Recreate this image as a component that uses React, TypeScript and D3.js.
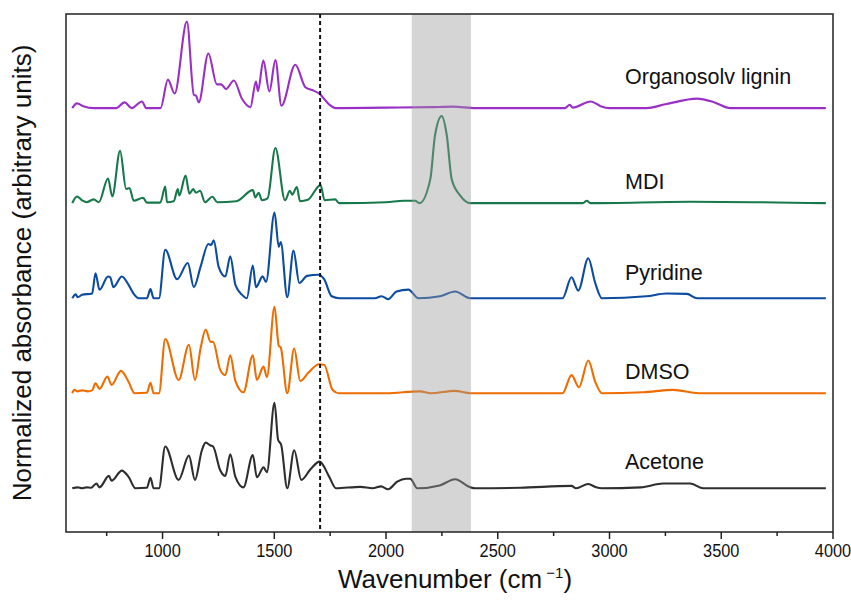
import React from "react";
import * as d3 from "d3";

const WIDTH = 851;
const HEIGHT = 606;
const margin = { top: 14, right: 18, bottom: 74, left: 66 };

// spectra: [wavenumber, normalized absorbance above own baseline]
const acetone: [number, number][] = [
  [596, 0], [620, 0.01], [640, 0], [660, 0.01], [680, 0.005], [704, 0.05], [718, 0.01],
  [760, 0.13], [772, 0.08], [818, 0.186], [848, 0.12], [879, 0], [930, 0.005], [946, 0.11],
  [960, 0], [984, 0], [1012, 0.44], [1072, 0.088], [1118, 0.344], [1145, 0.088], [1176, 0.4],
  [1193, 0.48], [1215, 0.45], [1226, 0.44], [1258, 0.19], [1281, 0.13], [1303, 0.358],
  [1326, 0.12], [1362, 0.01], [1404, 0.35], [1422, 0.116], [1452, 0.22], [1467, 0.17],
  [1501, 0.9], [1517, 0.51], [1531, 0.456], [1558, 0], [1589, 0.4], [1621, 0.088],
  [1662, 0.2], [1703, 0.28], [1746, 0.12], [1776, 0], [1885, 0.015], [1940, 0], [1978, 0.02],
  [2009, -0.01], [2050, 0.07], [2090, 0.1], [2108, 0.1], [2140, 0], [2240, 0.03], [2309, 0.095],
  [2377, 0.01], [2400, 0], [2600, 0.005], [2830, 0.025], [2850, 0], [2905, 0.045], [2940, 0.01],
  [2966, 0], [3140, 0.01], [3240, 0.05], [3360, 0.05], [3420, 0], [3968, 0],
];

const dmso: [number, number][] = [
  [596, 0], [605, 0.035], [620, 0.02], [640, 0.03], [665, 0.02], [685, 0.03], [700, 0.105],
  [718, 0.046], [753, 0.175], [772, 0.088], [814, 0.235], [848, 0.12], [875, 0], [930, 0.005],
  [946, 0.11], [960, 0], [984, 0], [1012, 0.57], [1072, 0.14], [1118, 0.51], [1145, 0.14],
  [1170, 0.47], [1193, 0.67], [1215, 0.54], [1226, 0.54], [1258, 0.246], [1281, 0.19],
  [1303, 0.4], [1326, 0.13], [1362, 0.01], [1404, 0.4], [1422, 0.14], [1452, 0.28],
  [1467, 0.17], [1501, 0.91], [1520, 0.5], [1529, 0.48], [1558, 0], [1589, 0.47], [1616, 0.13],
  [1654, 0.22], [1700, 0.305], [1723, 0.3], [1761, 0.035], [1790, 0], [2000, 0], [2152, 0.02],
  [2200, 0], [2308, 0.025], [2377, 0], [2790, 0], [2830, 0.19], [2863, 0.063], [2905, 0.344],
  [2936, 0.12], [2966, 0], [3150, 0.01], [3285, 0.035], [3400, 0], [3968, 0],
];

const pyridine: [number, number][] = [
  [596, 0], [612, 0.04], [620, 0.01], [640, 0.035], [685, 0.05], [700, 0.263], [718, 0.088],
  [756, 0.228], [766, 0.22], [780, 0.116], [818, 0.228], [848, 0.14], [871, 0.046], [894, 0],
  [930, 0], [946, 0.095], [960, 0], [984, 0], [1012, 0.51], [1065, 0.2], [1113, 0.37],
  [1140, 0.116], [1170, 0.33], [1205, 0.57], [1218, 0.56], [1229, 0.61], [1251, 0.33],
  [1281, 0.228], [1303, 0.44], [1326, 0.14], [1356, 0.035], [1377, 0], [1404, 0.344],
  [1418, 0.116], [1448, 0.23], [1463, 0.17], [1501, 0.9], [1520, 0.54], [1529, 0.59],
  [1558, 0.01], [1586, 0.5], [1612, 0.16], [1647, 0.235], [1697, 0.246], [1723, 0.2],
  [1757, 0.02], [1790, 0], [1950, 0], [1980, 0.02], [2009, -0.01], [2047, 0.07], [2100, 0.09],
  [2145, 0], [2241, 0.02], [2309, 0.07], [2377, 0], [2790, 0], [2830, 0.22], [2860, 0.08],
  [2905, 0.42], [2936, 0.16], [2966, 0], [3165, 0.02], [3255, 0.05], [3346, 0.045],
  [3392, 0], [3968, 0],
];

const mdi: [number, number][] = [
  [596, 0], [617, 0.07], [640, 0.03], [660, 0.01], [692, 0.04], [715, 0.01], [756, 0.26],
  [775, 0.07], [810, 0.55], [837, 0.15], [852, 0.16], [871, 0.025], [913, 0.056], [930, 0.005],
  [990, 0.005], [1012, 0.175], [1020, 0.01], [1050, 0.02], [1068, 0.147], [1075, 0.08],
  [1103, 0.29], [1120, 0.1], [1137, 0.147], [1150, 0.11], [1168, 0.13], [1190, 0.01],
  [1223, 0.067], [1245, 0.01], [1330, 0.02], [1404, 0.137], [1415, 0.06], [1430, 0.11],
  [1445, 0.03], [1470, 0.05], [1505, 0.58], [1548, 0.03], [1570, 0.13], [1580, 0.09],
  [1601, 0.17], [1615, 0.02], [1650, 0.035], [1707, 0.19], [1725, 0.03], [1772, 0.04],
  [1790, 0], [2000, 0.01], [2080, 0.025], [2130, 0.025], [2150, 0], [2198, 0.25],
  [2219, 0.71], [2249, 0.915], [2272, 0.71], [2294, 0.25], [2332, 0.08], [2377, 0],
  [2880, 0], [2898, 0.025], [2915, 0], [3360, 0.015], [3968, 0],
];

const lignin: [number, number][] = [
  [596, 0], [617, 0.05], [645, 0.02], [695, 0], [792, 0], [830, 0.06], [862, 0], [908, 0.07],
  [927, 0], [991, 0], [1024, 0.3], [1054, 0.154], [1109, 0.91], [1140, 0.14], [1150, 0.13],
  [1162, 0.06], [1205, 0.575], [1243, 0.25], [1262, 0.25], [1284, 0.2], [1319, 0.29],
  [1356, 0.095], [1393, 0.01], [1418, 0.28], [1427, 0.18], [1451, 0.5], [1478, 0.175],
  [1505, 0.505], [1532, 0.025], [1594, 0.456], [1639, 0.22], [1669, 0.19], [1700, 0.154],
  [1745, 0.04], [1775, 0], [2000, 0.005], [2200, 0.01], [2300, 0.015], [2400, 0], [2800, 0],
  [2822, 0.035], [2835, 0.005], [2916, 0.07], [2960, 0.02], [3000, 0], [3165, 0], [3250, 0.04],
  [3392, 0.1], [3470, 0.06], [3540, 0], [3968, 0],
];

const seriesNames = ["Acetone", "DMSO", "Pyridine", "MDI", "Organosolv lignin"];
const seriesData = [acetone, dmso, pyridine, mdi, lignin];
const seriesColors = ["#2e2e2e", "#ee6c00", "#0b4ba0", "#17784b", "#9a2fc7"];
const seriesOffsets = [0, 1, 2, 3, 4];
const labelBaselines = [469, 379, 280, 189, 84];

const xMajorTicks = [1000, 1500, 2000, 2500, 3000, 3500, 4000];
const xMinorTicks = [750, 1250, 1750, 2250, 2750, 3250, 3750];
const dashedAt = 1705;
const band: [number, number] = [2115, 2380];

const FONT = "'Liberation Sans', Arial, Helvetica, sans-serif";

export default function App() {
  const x = d3
    .scaleLinear()
    .domain([568, 4000])
    .range([margin.left, WIDTH - margin.right]);
  const y = d3
    .scaleLinear()
    .domain([-0.46, 4.99])
    .range([HEIGHT - margin.bottom, margin.top]);

  const plotBottom = HEIGHT - margin.bottom;
  const plotRight = WIDTH - margin.right;

  return (
    <svg
      width={WIDTH}
      height={HEIGHT}
      style={{ position: "absolute", left: 0, top: 0, background: "#fff" }}
      fontFamily={FONT}
    >
      {seriesData.map((pts, i) => {
        const line = d3
          .line<[number, number]>()
          .x((d) => x(d[0]))
          .y((d) => y(d[1] + seriesOffsets[i]))
          .curve(d3.curveMonotoneX);
        return (
          <path
            key={seriesNames[i]}
            d={line(pts) || ""}
            fill="none"
            stroke={seriesColors[i]}
            strokeWidth={2.1}
            strokeLinejoin="round"
          />
        );
      })}

      {/* highlighted region, drawn over the traces */}
      <rect
        x={x(band[0])}
        y={margin.top}
        width={x(band[1]) - x(band[0])}
        height={plotBottom - margin.top}
        fill="#9c9c9c"
        opacity={0.42}
      />

      <line
        x1={x(dashedAt)}
        x2={x(dashedAt)}
        y1={margin.top}
        y2={plotBottom}
        stroke="#111"
        strokeWidth={2}
        strokeDasharray="4,3"
      />

      {seriesNames.map((name, i) => (
        <text key={name} x={625} y={labelBaselines[i]} fontSize={21.5} fill="#111">
          {name}
        </text>
      ))}

      <rect
        x={margin.left}
        y={margin.top}
        width={plotRight - margin.left}
        height={plotBottom - margin.top}
        fill="none"
        stroke="#222"
        strokeWidth={1.5}
      />

      {xMajorTicks.map((t) => (
        <g key={t} transform={`translate(${x(t)},${plotBottom})`}>
          <line y2={7} stroke="#222" strokeWidth={1.5} />
          <text
            transform="translate(0,25) scale(0.86,1)"
            textAnchor="middle"
            fontSize={19}
            fill="#111"
          >
            {t}
          </text>
        </g>
      ))}
      {xMinorTicks.map((t) => (
        <line
          key={t}
          x1={x(t)}
          x2={x(t)}
          y1={plotBottom}
          y2={plotBottom + 4}
          stroke="#222"
          strokeWidth={1.5}
        />
      ))}

      <text
        x={455}
        y={588}
        textAnchor="middle"
        fontSize={26}
        fill="#111"
      >
        Wavenumber (cm
        <tspan dy={-10} fontSize={15}> −1</tspan>
        <tspan dy={10}>)</tspan>
      </text>

      <text
        transform={`translate(31,${(margin.top + plotBottom) / 2}) rotate(-90)`}
        textAnchor="middle"
        fontSize={26}
        fill="#111"
      >
        Normalized absorbance (arbitrary units)
      </text>
    </svg>
  );
}
